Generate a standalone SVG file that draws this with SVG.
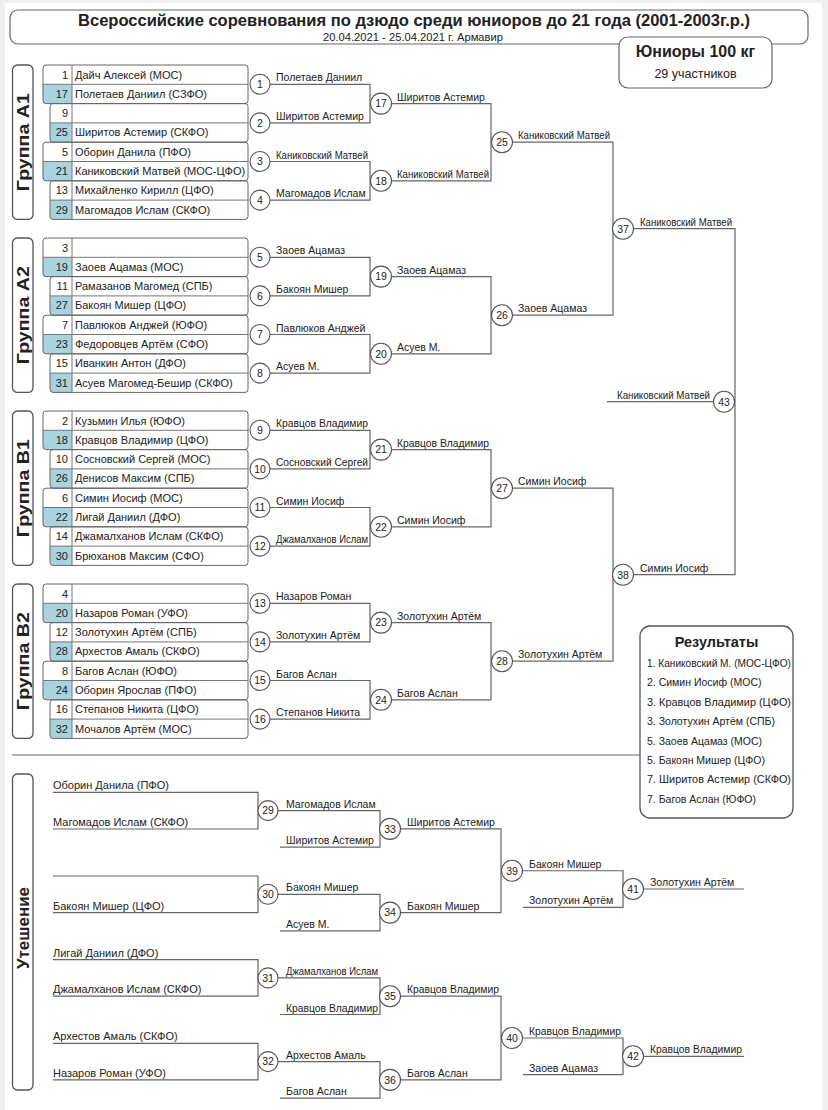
<svg xmlns="http://www.w3.org/2000/svg" width="828" height="1110" viewBox="0 0 828 1110">
<style>
text{font-family:"Liberation Sans",Arial,sans-serif;fill:#222}
.nm{font-size:11px}
.num{font-size:11px;text-anchor:end}
.w{font-size:10.5px}
.ln{stroke:#666;stroke-width:1.2;fill:none}
.in{stroke:#777;stroke-width:1;fill:none}
.c{fill:#fff;stroke:#555;stroke-width:1.1}
.cn{font-size:10.5px;text-anchor:middle}
.box{fill:none;stroke:#666;stroke-width:1}
.blue{fill:#a8d3df}
.gl{fill:#fff;stroke:#555;stroke-width:1.3}
.gt{font-size:17px;font-weight:bold;text-anchor:middle}
</style>
<rect x="0" y="0" width="828" height="1110" fill="#efefef"/>
<rect x="5" y="3" width="817" height="1107" fill="#fff"/>

<g id="header">
<rect x="10" y="10" width="798" height="34" rx="8" fill="#fff" stroke="#666" stroke-width="1.2"/>
<text x="414" y="25.5" font-size="16" font-weight="bold" text-anchor="middle" textLength="672" lengthAdjust="spacingAndGlyphs">Всероссийские соревнования по дзюдо среди юниоров до 21 года (2001-2003г.р.)</text>
<text x="413" y="40.5" font-size="10.5" text-anchor="middle" textLength="180" lengthAdjust="spacingAndGlyphs">20.04.2021 - 25.04.2021 г. Армавир</text>
</g>
<g id="weight">
<rect x="619" y="37" width="153" height="51" rx="9" fill="#fff" stroke="#666" stroke-width="1.2"/>
<text x="695.5" y="57" font-size="16" font-weight="bold" text-anchor="middle">Юниоры 100 кг</text>
<text x="695.5" y="78" font-size="12.5" text-anchor="middle">29 участников</text>
</g>

<g id="label-A1"><rect class="gl" x="12.5" y="65" width="20.5" height="154.4" rx="5"/><text class="gt" transform="translate(29,142.2) rotate(-90)" textLength="98" lengthAdjust="spacingAndGlyphs">Группа A1</text></g>
<g id="label-A2"><rect class="gl" x="12.5" y="238" width="20.5" height="154.4" rx="5"/><text class="gt" transform="translate(29,315.2) rotate(-90)" textLength="98" lengthAdjust="spacingAndGlyphs">Группа A2</text></g>
<g id="label-B1"><rect class="gl" x="12.5" y="411" width="20.5" height="154.4" rx="5"/><text class="gt" transform="translate(29,488.2) rotate(-90)" textLength="98" lengthAdjust="spacingAndGlyphs">Группа B1</text></g>
<g id="label-B2"><rect class="gl" x="12.5" y="584" width="20.5" height="154.4" rx="5"/><text class="gt" transform="translate(29,661.2) rotate(-90)" textLength="98" lengthAdjust="spacingAndGlyphs">Группа B2</text></g>
<g id="label-cons"><rect class="gl" x="12.5" y="774" width="20.5" height="316" rx="5"/><text class="gt" transform="translate(29,928) rotate(-90)">Утешение</text></g>

<!-- Group A1 -->
<g id="pair-A1-1"><path class="blue" d="M43 84.3H72V103.6H46Q43 103.6 43 100.6Z"/><rect class="box" x="43" y="65" width="205" height="38.6" rx="3"/><path class="in" d="M43 84.3H248M72 65V103.6"/>
<text class="num" x="68" y="78.5">1</text><text class="nm" x="75" y="78.5">Дайч Алексей (МОС)</text><text class="num" x="68" y="97.8">17</text><text class="nm" x="75" y="97.8">Полетаев Даниил (СЗФО)</text></g>
<g id="pair-A1-2"><path class="blue" d="M50 122.9H72V142.2H53Q50 142.2 50 139.2Z"/><rect class="box" x="50" y="103.6" width="198" height="38.6" rx="3"/><path class="in" d="M50 122.9H248M72 103.6V142.2"/>
<text class="num" x="68" y="117.1">9</text><text class="num" x="68" y="136.4">25</text><text class="nm" x="75" y="136.4">Ширитов Астемир (СКФО)</text></g>
<g id="pair-A1-3"><path class="blue" d="M43 161.5H72V180.8H46Q43 180.8 43 177.8Z"/><rect class="box" x="43" y="142.2" width="205" height="38.6" rx="3"/><path class="in" d="M43 161.5H248M72 142.2V180.8"/>
<text class="num" x="68" y="155.7">5</text><text class="nm" x="75" y="155.7">Оборин Данила (ПФО)</text><text class="num" x="68" y="175">21</text><text class="nm" x="75" y="175">Каниковский Матвей (МОС-ЦФО)</text></g>
<g id="pair-A1-4"><path class="blue" d="M50 200.1H72V219.4H53Q50 219.4 50 216.4Z"/><rect class="box" x="50" y="180.8" width="198" height="38.6" rx="3"/><path class="in" d="M50 200.1H248M72 180.8V219.4"/>
<text class="num" x="68" y="194.3">13</text><text class="nm" x="75" y="194.3">Михайленко Кирилл (ЦФО)</text><text class="num" x="68" y="213.6">29</text><text class="nm" x="75" y="213.6">Магомадов Ислам (СКФО)</text></g>

<!-- Group A2 -->
<g id="pair-A2-1"><path class="blue" d="M43 257.3H72V276.6H46Q43 276.6 43 273.6Z"/><rect class="box" x="43" y="238" width="205" height="38.6" rx="3"/><path class="in" d="M43 257.3H248M72 238V276.6"/>
<text class="num" x="68" y="251.5">3</text><text class="num" x="68" y="270.8">19</text><text class="nm" x="75" y="270.8">Заоев Ацамаз (МОС)</text></g>
<g id="pair-A2-2"><path class="blue" d="M50 295.9H72V315.2H53Q50 315.2 50 312.2Z"/><rect class="box" x="50" y="276.6" width="198" height="38.6" rx="3"/><path class="in" d="M50 295.9H248M72 276.6V315.2"/>
<text class="num" x="68" y="290.1">11</text><text class="nm" x="75" y="290.1">Рамазанов Магомед (СПБ)</text><text class="num" x="68" y="309.4">27</text><text class="nm" x="75" y="309.4">Бакоян Мишер (ЦФО)</text></g>
<g id="pair-A2-3"><path class="blue" d="M43 334.5H72V353.8H46Q43 353.8 43 350.8Z"/><rect class="box" x="43" y="315.2" width="205" height="38.6" rx="3"/><path class="in" d="M43 334.5H248M72 315.2V353.8"/>
<text class="num" x="68" y="328.7">7</text><text class="nm" x="75" y="328.7">Павлюков Анджей (ЮФО)</text><text class="num" x="68" y="348">23</text><text class="nm" x="75" y="348">Федоровцев Артём (СФО)</text></g>
<g id="pair-A2-4"><path class="blue" d="M50 373.1H72V392.4H53Q50 392.4 50 389.4Z"/><rect class="box" x="50" y="353.8" width="198" height="38.6" rx="3"/><path class="in" d="M50 373.1H248M72 353.8V392.4"/>
<text class="num" x="68" y="367.3">15</text><text class="nm" x="75" y="367.3">Иванкин Антон (ДФО)</text><text class="num" x="68" y="386.6">31</text><text class="nm" x="75" y="386.6">Асуев Магомед-Бешир (СКФО)</text></g>

<!-- Group B1 -->
<g id="pair-B1-1"><path class="blue" d="M43 430.3H72V449.6H46Q43 449.6 43 446.6Z"/><rect class="box" x="43" y="411" width="205" height="38.6" rx="3"/><path class="in" d="M43 430.3H248M72 411V449.6"/>
<text class="num" x="68" y="424.5">2</text><text class="nm" x="75" y="424.5">Кузьмин Илья (ЮФО)</text><text class="num" x="68" y="443.8">18</text><text class="nm" x="75" y="443.8">Кравцов Владимир (ЦФО)</text></g>
<g id="pair-B1-2"><path class="blue" d="M50 468.9H72V488.2H53Q50 488.2 50 485.2Z"/><rect class="box" x="50" y="449.6" width="198" height="38.6" rx="3"/><path class="in" d="M50 468.9H248M72 449.6V488.2"/>
<text class="num" x="68" y="463.1">10</text><text class="nm" x="75" y="463.1">Сосновский Сергей (МОС)</text><text class="num" x="68" y="482.4">26</text><text class="nm" x="75" y="482.4">Денисов Максим (СПБ)</text></g>
<g id="pair-B1-3"><path class="blue" d="M43 507.5H72V526.8H46Q43 526.8 43 523.8Z"/><rect class="box" x="43" y="488.2" width="205" height="38.6" rx="3"/><path class="in" d="M43 507.5H248M72 488.2V526.8"/>
<text class="num" x="68" y="501.7">6</text><text class="nm" x="75" y="501.7">Симин Иосиф (МОС)</text><text class="num" x="68" y="521">22</text><text class="nm" x="75" y="521">Лигай Даниил (ДФО)</text></g>
<g id="pair-B1-4"><path class="blue" d="M50 546.1H72V565.4H53Q50 565.4 50 562.4Z"/><rect class="box" x="50" y="526.8" width="198" height="38.6" rx="3"/><path class="in" d="M50 546.1H248M72 526.8V565.4"/>
<text class="num" x="68" y="540.3">14</text><text class="nm" x="75" y="540.3">Джамалханов Ислам (СКФО)</text><text class="num" x="68" y="559.6">30</text><text class="nm" x="75" y="559.6">Брюханов Максим (СФО)</text></g>

<!-- Group B2 -->
<g id="pair-B2-1"><path class="blue" d="M43 603.3H72V622.6H46Q43 622.6 43 619.6Z"/><rect class="box" x="43" y="584" width="205" height="38.6" rx="3"/><path class="in" d="M43 603.3H248M72 584V622.6"/>
<text class="num" x="68" y="597.5">4</text><text class="num" x="68" y="616.8">20</text><text class="nm" x="75" y="616.8">Назаров Роман (УФО)</text></g>
<g id="pair-B2-2"><path class="blue" d="M50 641.9H72V661.2H53Q50 661.2 50 658.2Z"/><rect class="box" x="50" y="622.6" width="198" height="38.6" rx="3"/><path class="in" d="M50 641.9H248M72 622.6V661.2"/>
<text class="num" x="68" y="636.1">12</text><text class="nm" x="75" y="636.1">Золотухин Артём (СПБ)</text><text class="num" x="68" y="655.4">28</text><text class="nm" x="75" y="655.4">Архестов Амаль (СКФО)</text></g>
<g id="pair-B2-3"><path class="blue" d="M43 680.5H72V699.8H46Q43 699.8 43 696.8Z"/><rect class="box" x="43" y="661.2" width="205" height="38.6" rx="3"/><path class="in" d="M43 680.5H248M72 661.2V699.8"/>
<text class="num" x="68" y="674.7">8</text><text class="nm" x="75" y="674.7">Багов Аслан (ЮФО)</text><text class="num" x="68" y="694">24</text><text class="nm" x="75" y="694">Оборин Ярослав (ПФО)</text></g>
<g id="pair-B2-4"><path class="blue" d="M50 719.1H72V738.4H53Q50 738.4 50 735.4Z"/><rect class="box" x="50" y="699.8" width="198" height="38.6" rx="3"/><path class="in" d="M50 719.1H248M72 699.8V738.4"/>
<text class="num" x="68" y="713.3">16</text><text class="nm" x="75" y="713.3">Степанов Никита (ЦФО)</text><text class="num" x="68" y="732.6">32</text><text class="nm" x="75" y="732.6">Мочалов Артём (МОС)</text></g>

<g id="connectors">
<path class="ln" d="M12 755H640"/>
<path class="ln" d="M270 84.3H370V122.9H270M270 161.5H370V200.1H270M391 103.6H491V180.8H391M512 142.2H613V315.2H512"/>
<path class="ln" d="M270 257.3H370V295.9H270M270 334.5H370V373.1H270M391 276.6H491V353.8H391"/>
<path class="ln" d="M270 430.3H370V468.9H270M270 507.5H370V546.1H270M391 449.6H491V526.8H391M512 488.2H613V661.2H512"/>
<path class="ln" d="M270 603.3H370V641.9H270M270 680.5H370V719.1H270M391 622.6H491V699.8H391"/>
<path class="ln" d="M633 228.7H735V574.7H633M607 401.7H713"/>
<path class="ln" d="M53 792.3H258V829H53M53 876H258V912.6H53M53 959.6H258V996.2H53M53 1043.3H258V1079.9H53"/>
<path class="ln" d="M278 810.6H380V847.2H280M278 894.3H380V930.9H280M278 977.9H380V1014.5H280M278 1061.6H380V1098.2H280"/>
<path class="ln" d="M400 828.9H501V912.6H400M400 996.2H501V1079.9H400"/>
<path class="ln" d="M522 870.75H623V907.4H523M522 1038H623V1074.6H523M643 889H744M643 1056.3H744"/>
</g>

<g id="labels">
<text class="w" x="276" y="81.3">Полетаев Даниил</text>
<text class="w" x="276" y="119.9">Ширитов Астемир</text>
<text class="w" x="276" y="158.5" textLength="92" lengthAdjust="spacingAndGlyphs">Каниковский Матвей</text>
<text class="w" x="276" y="197.1">Магомадов Ислам</text>
<text class="w" x="276" y="254.3">Заоев Ацамаз</text>
<text class="w" x="276" y="292.9">Бакоян Мишер</text>
<text class="w" x="276" y="331.5">Павлюков Анджей</text>
<text class="w" x="276" y="370.1">Асуев М.</text>
<text class="w" x="276" y="427.3" textLength="92" lengthAdjust="spacingAndGlyphs">Кравцов Владимир</text>
<text class="w" x="276" y="465.9" textLength="92" lengthAdjust="spacingAndGlyphs">Сосновский Сергей</text>
<text class="w" x="276" y="504.5">Симин Иосиф</text>
<text class="w" x="276" y="543.1" textLength="92" lengthAdjust="spacingAndGlyphs">Джамалханов Ислам</text>
<text class="w" x="276" y="600.3">Назаров Роман</text>
<text class="w" x="276" y="638.9">Золотухин Артём</text>
<text class="w" x="276" y="677.5">Багов Аслан</text>
<text class="w" x="276" y="716.1">Степанов Никита</text>
<text class="w" x="397" y="100.6">Ширитов Астемир</text>
<text class="w" x="397" y="177.8" textLength="92" lengthAdjust="spacingAndGlyphs">Каниковский Матвей</text>
<text class="w" x="397" y="273.6">Заоев Ацамаз</text>
<text class="w" x="397" y="350.8">Асуев М.</text>
<text class="w" x="397" y="446.6" textLength="92" lengthAdjust="spacingAndGlyphs">Кравцов Владимир</text>
<text class="w" x="397" y="523.8">Симин Иосиф</text>
<text class="w" x="397" y="619.6">Золотухин Артём</text>
<text class="w" x="397" y="696.8">Багов Аслан</text>
<text class="w" x="518" y="139.2" textLength="92" lengthAdjust="spacingAndGlyphs">Каниковский Матвей</text>
<text class="w" x="518" y="312.2">Заоев Ацамаз</text>
<text class="w" x="518" y="485.2">Симин Иосиф</text>
<text class="w" x="518" y="658.2">Золотухин Артём</text>
<text class="w" x="640" y="225.7" textLength="92" lengthAdjust="spacingAndGlyphs">Каниковский Матвей</text>
<text class="w" x="640" y="571.7">Симин Иосиф</text>
<text class="w" x="710" y="398.7" text-anchor="end" textLength="93" lengthAdjust="spacingAndGlyphs">Каниковский Матвей</text>

<text class="nm" x="53" y="789.3">Оборин Данила (ПФО)</text>
<text class="nm" x="53" y="826">Магомадов Ислам (СКФО)</text>
<text class="nm" x="53" y="909.6">Бакоян Мишер (ЦФО)</text>
<text class="nm" x="53" y="956.6">Лигай Даниил (ДФО)</text>
<text class="nm" x="53" y="993.2">Джамалханов Ислам (СКФО)</text>
<text class="nm" x="53" y="1040.3">Архестов Амаль (СКФО)</text>
<text class="nm" x="53" y="1076.9">Назаров Роман (УФО)</text>
<text class="w" x="286" y="807.6">Магомадов Ислам</text>
<text class="w" x="286" y="844.2">Ширитов Астемир</text>
<text class="w" x="286" y="891.3">Бакоян Мишер</text>
<text class="w" x="286" y="927.9">Асуев М.</text>
<text class="w" x="286" y="974.9" textLength="92" lengthAdjust="spacingAndGlyphs">Джамалханов Ислам</text>
<text class="w" x="286" y="1011.5" textLength="92" lengthAdjust="spacingAndGlyphs">Кравцов Владимир</text>
<text class="w" x="286" y="1058.6">Архестов Амаль</text>
<text class="w" x="286" y="1095.2">Багов Аслан</text>
<text class="w" x="407" y="825.9">Ширитов Астемир</text>
<text class="w" x="407" y="909.6">Бакоян Мишер</text>
<text class="w" x="407" y="993.2" textLength="92" lengthAdjust="spacingAndGlyphs">Кравцов Владимир</text>
<text class="w" x="407" y="1076.9">Багов Аслан</text>
<text class="w" x="529" y="867.75">Бакоян Мишер</text>
<text class="w" x="529" y="904.4">Золотухин Артём</text>
<text class="w" x="529" y="1035" textLength="92" lengthAdjust="spacingAndGlyphs">Кравцов Владимир</text>
<text class="w" x="529" y="1071.6">Заоев Ацамаз</text>
<text class="w" x="650" y="886">Золотухин Артём</text>
<text class="w" x="650" y="1053.3" textLength="92" lengthAdjust="spacingAndGlyphs">Кравцов Владимир</text>
</g>

<g id="m1"><circle class="c" cx="260" cy="84.3" r="10"/><text class="cn" x="260" y="88.1">1</text></g>
<g id="m2"><circle class="c" cx="260" cy="122.9" r="10"/><text class="cn" x="260" y="126.7">2</text></g>
<g id="m3"><circle class="c" cx="260" cy="161.5" r="10"/><text class="cn" x="260" y="165.3">3</text></g>
<g id="m4"><circle class="c" cx="260" cy="200.1" r="10"/><text class="cn" x="260" y="203.9">4</text></g>
<g id="m5"><circle class="c" cx="260" cy="257.3" r="10"/><text class="cn" x="260" y="261.1">5</text></g>
<g id="m6"><circle class="c" cx="260" cy="295.9" r="10"/><text class="cn" x="260" y="299.7">6</text></g>
<g id="m7"><circle class="c" cx="260" cy="334.5" r="10"/><text class="cn" x="260" y="338.3">7</text></g>
<g id="m8"><circle class="c" cx="260" cy="373.1" r="10"/><text class="cn" x="260" y="376.9">8</text></g>
<g id="m9"><circle class="c" cx="260" cy="430.3" r="10"/><text class="cn" x="260" y="434.1">9</text></g>
<g id="m10"><circle class="c" cx="260" cy="468.9" r="10"/><text class="cn" x="260" y="472.7">10</text></g>
<g id="m11"><circle class="c" cx="260" cy="507.5" r="10"/><text class="cn" x="260" y="511.3">11</text></g>
<g id="m12"><circle class="c" cx="260" cy="546.1" r="10"/><text class="cn" x="260" y="549.9">12</text></g>
<g id="m13"><circle class="c" cx="260" cy="603.3" r="10"/><text class="cn" x="260" y="607.1">13</text></g>
<g id="m14"><circle class="c" cx="260" cy="641.9" r="10"/><text class="cn" x="260" y="645.7">14</text></g>
<g id="m15"><circle class="c" cx="260" cy="680.5" r="10"/><text class="cn" x="260" y="684.3">15</text></g>
<g id="m16"><circle class="c" cx="260" cy="719.1" r="10"/><text class="cn" x="260" y="722.9">16</text></g>
<g id="m17"><circle class="c" cx="381" cy="103.6" r="10.5"/><text class="cn" x="381" y="107.4">17</text></g>
<g id="m18"><circle class="c" cx="381" cy="180.8" r="10.5"/><text class="cn" x="381" y="184.6">18</text></g>
<g id="m19"><circle class="c" cx="381" cy="276.6" r="10.5"/><text class="cn" x="381" y="280.4">19</text></g>
<g id="m20"><circle class="c" cx="381" cy="353.8" r="10.5"/><text class="cn" x="381" y="357.6">20</text></g>
<g id="m21"><circle class="c" cx="381" cy="449.6" r="10.5"/><text class="cn" x="381" y="453.4">21</text></g>
<g id="m22"><circle class="c" cx="381" cy="526.8" r="10.5"/><text class="cn" x="381" y="530.6">22</text></g>
<g id="m23"><circle class="c" cx="381" cy="622.6" r="10.5"/><text class="cn" x="381" y="626.4">23</text></g>
<g id="m24"><circle class="c" cx="381" cy="699.8" r="10.5"/><text class="cn" x="381" y="703.6">24</text></g>
<g id="m25"><circle class="c" cx="502" cy="142.2" r="10.5"/><text class="cn" x="502" y="146">25</text></g>
<g id="m26"><circle class="c" cx="502" cy="315.2" r="10.5"/><text class="cn" x="502" y="319">26</text></g>
<g id="m27"><circle class="c" cx="502" cy="488.2" r="10.5"/><text class="cn" x="502" y="492">27</text></g>
<g id="m28"><circle class="c" cx="502" cy="661.2" r="10.5"/><text class="cn" x="502" y="665">28</text></g>
<g id="m37"><circle class="c" cx="623" cy="228.7" r="10.5"/><text class="cn" x="623" y="232.5">37</text></g>
<g id="m38"><circle class="c" cx="623" cy="574.7" r="10.5"/><text class="cn" x="623" y="578.5">38</text></g>
<g id="m43"><circle class="c" cx="724" cy="401.7" r="10.5"/><text class="cn" x="724" y="405.5">43</text></g>
<g id="m29"><circle class="c" cx="268" cy="810.6" r="10"/><text class="cn" x="268" y="814.4">29</text></g>
<g id="m30"><circle class="c" cx="268" cy="894.3" r="10"/><text class="cn" x="268" y="898.1">30</text></g>
<g id="m31"><circle class="c" cx="268" cy="977.9" r="10"/><text class="cn" x="268" y="981.7">31</text></g>
<g id="m32"><circle class="c" cx="268" cy="1061.6" r="10"/><text class="cn" x="268" y="1065.4">32</text></g>
<g id="m33"><circle class="c" cx="390" cy="828.9" r="10.5"/><text class="cn" x="390" y="832.7">33</text></g>
<g id="m34"><circle class="c" cx="390" cy="912.6" r="10.5"/><text class="cn" x="390" y="916.4">34</text></g>
<g id="m35"><circle class="c" cx="390" cy="996.2" r="10.5"/><text class="cn" x="390" y="1000">35</text></g>
<g id="m36"><circle class="c" cx="390" cy="1079.9" r="10.5"/><text class="cn" x="390" y="1083.7">36</text></g>
<g id="m39"><circle class="c" cx="512" cy="870.75" r="10.5"/><text class="cn" x="512" y="874.55">39</text></g>
<g id="m40"><circle class="c" cx="512" cy="1038" r="10.5"/><text class="cn" x="512" y="1041.8">40</text></g>
<g id="m41"><circle class="c" cx="633" cy="889" r="10.5"/><text class="cn" x="633" y="892.8">41</text></g>
<g id="m42"><circle class="c" cx="633" cy="1056.3" r="10.5"/><text class="cn" x="633" y="1060.1">42</text></g>

<g id="results">
<rect x="640" y="626" width="153" height="192" rx="10" fill="#fff" stroke="#555" stroke-width="1.3"/>
<text x="716.5" y="647" font-size="14.5" font-weight="bold" text-anchor="middle">Результаты</text>
<text class="w" x="647" y="667" textLength="144" lengthAdjust="spacingAndGlyphs">1. Каниковский М. (МОС-ЦФО)</text>
<text class="w" x="647" y="686.4">2. Симин Иосиф (МОС)</text>
<text class="w" x="647" y="705.8" textLength="144" lengthAdjust="spacingAndGlyphs">3. Кравцов Владимир (ЦФО)</text>
<text class="w" x="647" y="725.2">3. Золотухин Артём (СПБ)</text>
<text class="w" x="647" y="744.6">5. Заоев Ацамаз (МОС)</text>
<text class="w" x="647" y="764">5. Бакоян Мишер (ЦФО)</text>
<text class="w" x="647" y="783.4" textLength="144" lengthAdjust="spacingAndGlyphs">7. Ширитов Астемир (СКФО)</text>
<text class="w" x="647" y="802.8">7. Багов Аслан (ЮФО)</text>
</g>
</svg>
